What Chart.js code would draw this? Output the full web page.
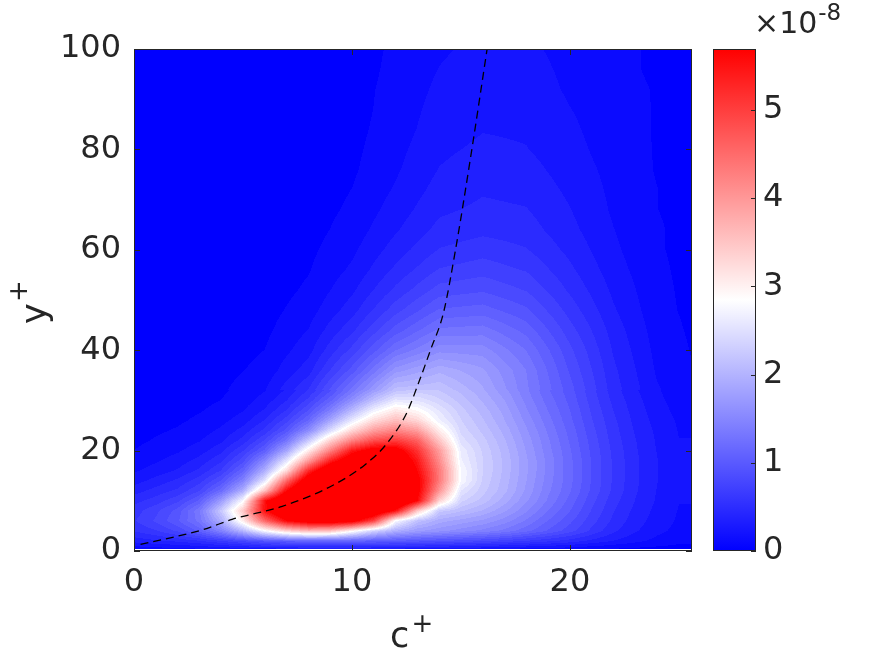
<!DOCTYPE html>
<html>
<head>
<meta charset="utf-8">
<script src="https://cdn.jsdelivr.net/npm/chart.js@4.4.1/dist/chart.umd.min.js"></script>
<style>
    html, body { margin: 0; padding: 0; background: #fff; }
</style>
</head>
<body>
<canvas id="grafico" width="875" height="657"></canvas>
<script>
// Ticks dos eixos
const xTicks = [0, 10, 20];
const yTicks = [0, 20, 40, 60, 80, 100];
const cbTicks = [0, 1, 2, 3, 4, 5];
const cMax = 5.69;      // topo da barra de cores (x 1e-8)
const nNiveis = 48;     // niveis do contourf

// Curva tracejada (c+, y+)
const curvaC = [0.3, 3.2, 4.5, 6.8, 9.0, 10.6, 11.6, 12.5, 13.1, 13.6, 14.2, 14.75, 15.5, 16.2];
const curvaY = [1.3, 4.3, 6.3, 8.9, 12.8, 17.2, 21.4, 27.4, 34, 40, 47.5, 60, 80, 100];

// Campo perto da parede: c+ de 1 em 1, y+ de 2 em 2 (valores x 1e-8)
const cBaixo = [0,1,2,3,4,5,6,7,8,9,10,11,12,13,14,15,16,17,18,19,20,21,22,23,24,25];
const yBaixo = [0.4, 2, 4, 6, 8, 10, 12, 14, 16, 18, 20, 22, 24, 26, 28, 30, 32];
const zBaixo = [
    [0.15,0.18,0.2,0.22,0.25,0.28,0.3,0.32,0.33,0.33,0.33,0.33,0.32,0.3,0.28,0.26,0.24,0.22,0.2,0.18,0.16,0.13,0.11,0.09,0.08,0.07],
    [0.4,0.45,0.5,0.58,0.7,0.85,1.0,1.1,1.15,1.15,1.15,1.1,1.05,1.0,0.95,0.9,0.85,0.78,0.7,0.62,0.54,0.44,0.35,0.27,0.2,0.15],
    [0.6,0.7,0.85,1.1,1.5,2.1,2.85,3.4,3.7,3.6,3.0,2.4,2.0,1.8,1.7,1.6,1.5,1.38,1.22,1.05,0.88,0.68,0.5,0.37,0.27,0.2],
    [0.7,0.85,1.05,1.35,2.0,3.1,4.6,5.7,6.1,6.2,6.0,5.0,2.85,2.2,1.95,1.85,1.75,1.6,1.4,1.18,0.98,0.76,0.56,0.41,0.3,0.22],
    [0.65,0.8,1.0,1.4,2.3,3.5,5.6,6.6,7.0,7.1,7.0,6.5,5.6,3.5,2.3,2.15,2.0,1.8,1.56,1.3,1.07,0.82,0.6,0.44,0.32,0.23],
    [0.55,0.65,0.8,1.1,1.8,2.85,5.6,6.8,7.3,7.6,7.6,7.4,6.9,5.7,3.4,2.4,2.2,1.95,1.68,1.4,1.14,0.87,0.64,0.47,0.34,0.24],
    [0.42,0.52,0.62,0.82,1.25,2.0,3.6,5.7,7.0,7.5,7.7,7.6,7.2,5.9,4.1,2.6,2.3,2.05,1.75,1.45,1.2,0.92,0.68,0.49,0.35,0.25],
    [0.3,0.4,0.5,0.66,0.95,1.5,2.6,4.6,6.3,7.2,7.6,7.6,7.2,5.9,4.4,2.85,2.35,2.08,1.78,1.48,1.22,0.94,0.69,0.5,0.36,0.26],
    [0.22,0.29,0.37,0.5,0.72,1.15,2.0,3.3,5.3,6.5,7.1,7.3,6.9,5.7,4.4,2.85,2.38,2.1,1.8,1.5,1.22,0.94,0.69,0.5,0.36,0.26],
    [0.16,0.22,0.29,0.4,0.57,0.9,1.55,2.6,4.0,5.4,6.3,6.7,6.4,5.5,4.2,2.75,2.38,2.1,1.8,1.5,1.22,0.94,0.69,0.5,0.36,0.26],
    [0.12,0.17,0.22,0.3,0.44,0.7,1.1,1.9,3.1,4.3,5.5,6.0,6.0,5.2,4.0,2.7,2.35,2.08,1.77,1.47,1.2,0.92,0.68,0.49,0.35,0.25],
    [0.09,0.13,0.17,0.23,0.33,0.52,0.84,1.35,2.3,3.4,4.3,4.9,5.1,4.7,3.55,2.55,2.3,2.03,1.73,1.44,1.17,0.9,0.66,0.48,0.34,0.24],
    [0.07,0.1,0.13,0.18,0.26,0.4,0.63,1.0,1.6,2.5,3.35,4.0,4.3,4.0,3.1,2.45,2.22,1.97,1.68,1.4,1.14,0.87,0.64,0.46,0.33,0.23],
    [0.06,0.08,0.1,0.14,0.2,0.3,0.48,0.78,1.2,1.9,2.65,3.3,3.65,3.35,2.75,2.38,2.15,1.9,1.62,1.35,1.1,0.84,0.62,0.44,0.31,0.22],
    [0.05,0.06,0.08,0.11,0.15,0.23,0.37,0.6,0.95,1.45,2.1,2.75,3.15,2.95,2.6,2.3,2.08,1.85,1.56,1.3,1.07,0.81,0.59,0.42,0.29,0.2],
    [0.04,0.05,0.07,0.09,0.12,0.18,0.29,0.47,0.75,1.15,1.65,2.2,2.65,2.6,2.4,2.2,2.0,1.78,1.5,1.25,1.03,0.78,0.56,0.4,0.27,0.18],
    [0.04,0.05,0.06,0.08,0.1,0.15,0.23,0.37,0.6,0.92,1.35,1.8,2.2,2.3,2.25,2.1,1.92,1.7,1.45,1.2,1.0,0.75,0.53,0.37,0.25,0.17]
];

// Campo de cima: c+ de 2 em 2, y+ de 4 em 4
const cAlto = [0,2,4,6,8,10,12,14,16,18,20,22,24,26];
const yAlto = [32,36,40,44,48,52,56,60,64,68,72,76,80,84,88,92,96,100];
const zAlto = [
    [0.04,0.06,0.1,0.23,0.6,1.35,2.2,2.25,1.92,1.45,1.0,0.53,0.25,0.12],
    [0.03,0.04,0.07,0.16,0.42,1.0,1.72,1.98,1.8,1.42,0.93,0.5,0.22,0.1],
    [0.02,0.03,0.05,0.12,0.31,0.75,1.3,1.62,1.6,1.3,0.86,0.46,0.2,0.09],
    [0.01,0.02,0.04,0.09,0.24,0.56,1.0,1.33,1.36,1.14,0.76,0.42,0.18,0.08],
    [0.01,0.01,0.03,0.07,0.18,0.42,0.78,1.08,1.12,0.97,0.66,0.37,0.16,0.07],
    [0.01,0.01,0.02,0.05,0.14,0.33,0.62,0.88,0.93,0.82,0.57,0.33,0.15,0.07],
    [0,0.01,0.02,0.04,0.11,0.26,0.5,0.72,0.78,0.7,0.5,0.29,0.14,0.07],
    [0,0.01,0.01,0.03,0.09,0.21,0.41,0.6,0.66,0.6,0.44,0.26,0.13,0.07],
    [0,0,0.01,0.02,0.07,0.17,0.34,0.51,0.56,0.53,0.39,0.24,0.13,0.07],
    [0,0,0.01,0.02,0.06,0.14,0.29,0.45,0.5,0.48,0.36,0.22,0.12,0.07],
    [0,0,0,0.01,0.05,0.12,0.25,0.4,0.46,0.44,0.33,0.21,0.12,0.07],
    [0,0,0,0.01,0.04,0.1,0.22,0.36,0.42,0.4,0.3,0.2,0.11,0.07],
    [0,0,0,0.01,0.03,0.09,0.2,0.33,0.38,0.36,0.28,0.18,0.11,0.07],
    [0,0,0,0,0.03,0.08,0.18,0.3,0.35,0.34,0.26,0.17,0.11,0.07],
    [0,0,0,0,0.02,0.07,0.17,0.28,0.33,0.32,0.24,0.17,0.11,0.07],
    [0,0,0,0,0.02,0.07,0.16,0.26,0.31,0.3,0.22,0.16,0.11,0.07],
    [0,0,0,0,0.02,0.06,0.15,0.24,0.29,0.28,0.21,0.15,0.1,0.07],
    [0,0,0,0,0.02,0.06,0.14,0.22,0.27,0.26,0.2,0.15,0.1,0.07]
];

const corTexto = '#262626';
const fonte = 'DejaVu Sans';

// Acha a celula e a fracao dentro dela
function achaIndice(arr, v) {
    if (v <= arr[0]) return [0, 0];
    for (let i = 0; i < arr.length - 1; i++) {
        if (v <= arr[i + 1]) return [i, (v - arr[i]) / (arr[i + 1] - arr[i])];
    }
    return [arr.length - 2, 1];
}

// Valor do campo num ponto (sombreamento bilinear entre os nos)
function valorCampo(c, y) {
    if (y < yBaixo[0]) return null;
    let xs = cBaixo, ys = yBaixo, zs = zBaixo;
    if (y > 32) { xs = cAlto; ys = yAlto; zs = zAlto; }
    const [i, tx] = achaIndice(xs, c);
    const [j, ty] = achaIndice(ys, y);
    const a = zs[j][i] * (1 - tx) + zs[j][i + 1] * tx;
    const b = zs[j + 1][i] * (1 - tx) + zs[j + 1][i + 1] * tx;
    return a * (1 - ty) + b * ty;
}

// Mapa azul -> branco -> vermelho
function corMapa(v) {
    const t = Math.max(0, Math.min(1, v / cMax));
    if (t < 0.5) {
        const w = Math.round(510 * t);
        return [w, w, 255];
    }
    const g = Math.round(510 * (1 - t));
    return [255, g, g];
}

const pluginCampo = {
    id: 'campo',
    beforeDatasetsDraw(chart) {
        const { ctx, chartArea, scales } = chart;
        const L = Math.round(chartArea.left), T = Math.round(chartArea.top);
        const W = Math.round(chartArea.right) - L, H = Math.round(chartArea.bottom) - T;
        const img = ctx.createImageData(W, H);
        const passo = cMax / nNiveis;
        const xs = [];
        for (let i = 0; i < W; i++) xs.push(scales.x.getValueForPixel(L + i + 0.5));
        for (let j = 0; j < H; j++) {
            const yv = scales.y.getValueForPixel(T + j + 0.5);
            for (let i = 0; i < W; i++) {
                const v = valorCampo(xs[i], yv);
                const rgb = v === null ? [255, 255, 255] : corMapa(Math.floor(v / passo) * passo);
                const k = (j * W + i) * 4;
                img.data[k] = rgb[0];
                img.data[k + 1] = rgb[1];
                img.data[k + 2] = rgb[2];
                img.data[k + 3] = 255;
            }
        }
        ctx.putImageData(img, L, T);
    },
    afterDatasetsDraw(chart) {
        const { ctx, chartArea: a, scales } = chart;
        ctx.save();
        ctx.strokeStyle = corTexto;
        ctx.lineWidth = 1;

        // moldura e ticks para dentro
        ctx.strokeRect(a.left + 0.5, a.top + 0.5, a.right - a.left - 1, a.bottom - a.top - 1);
        ctx.beginPath();
        xTicks.forEach(v => {
            const px = Math.round(scales.x.getPixelForValue(v)) + 0.5;
            ctx.moveTo(px, a.bottom); ctx.lineTo(px, a.bottom - 6);
            ctx.moveTo(px, a.top); ctx.lineTo(px, a.top + 6);
        });
        yTicks.forEach(v => {
            const py = Math.round(scales.y.getPixelForValue(v)) + 0.5;
            ctx.moveTo(a.left, py); ctx.lineTo(a.left + 6, py);
            ctx.moveTo(a.right, py); ctx.lineTo(a.right - 6, py);
        });
        ctx.stroke();

        // barra de cores
        const cb = scales.cb;
        const x0 = 713, x1 = 756;
        const yb = cb.getPixelForValue(0), yt = cb.getPixelForValue(cMax);
        const grad = ctx.createLinearGradient(0, yb, 0, yt);
        grad.addColorStop(0, 'rgb(0,0,255)');
        grad.addColorStop(0.5, 'rgb(255,255,255)');
        grad.addColorStop(1, 'rgb(255,0,0)');
        ctx.fillStyle = grad;
        ctx.fillRect(x0, yt, x1 - x0, yb - yt);
        ctx.strokeRect(x0 + 0.5, Math.round(yt) + 0.5, x1 - x0 - 1, Math.round(yb - yt) - 1);
        ctx.beginPath();
        cbTicks.forEach(v => {
            const py = Math.round(cb.getPixelForValue(v)) + 0.5;
            ctx.moveTo(x1, py); ctx.lineTo(x1 - 5, py);
        });
        ctx.stroke();

        // expoente da barra de cores
        ctx.fillStyle = corTexto;
        ctx.textBaseline = 'alphabetic';
        ctx.textAlign = 'left';
        ctx.font = '30px "' + fonte + '"';
        ctx.fillText('×10', 754, 33);
        const larg = ctx.measureText('×10').width;
        ctx.font = '23px "' + fonte + '"';
        ctx.fillText('-8', 754 + larg + 1, 20);

        // titulos dos eixos
        ctx.font = '35px "' + fonte + '"';
        ctx.fillText('c', 390, 647);
        ctx.textAlign = 'center';
        ctx.font = '26px "' + fonte + '"';
        ctx.fillText('+', 422.5, 632);

        ctx.translate(46, 324);
        ctx.rotate(-Math.PI / 2);
        ctx.textAlign = 'left';
        ctx.font = '35px "' + fonte + '"';
        ctx.fillText('y', 0, 0);
        ctx.textAlign = 'center';
        ctx.font = '26px "' + fonte + '"';
        ctx.fillText('+', 33, -19);
        ctx.restore();
    }
};

function gerarGrafico() {
    const ctx = document.getElementById('grafico').getContext('2d');
    Chart.defaults.font.family = fonte;
    Chart.defaults.color = corTexto;
    new Chart(ctx, {
        type: 'line',
        data: {
            datasets: [{
                data: curvaC.map((c, i) => ({ x: c, y: curvaY[i] })),
                borderColor: '#000000',
                borderWidth: 1.3,
                borderDash: [8, 5],
                pointRadius: 0,
                cubicInterpolationMode: 'monotone',
                fill: false,
            }],
        },
        options: {
            responsive: false,
            animation: false,
            layout: { padding: { top: 49, left: 0, right: 0, bottom: 0 } },
            plugins: {
                legend: { display: false },
                tooltip: { enabled: false },
            },
            scales: {
                x: {
                    type: 'linear',
                    min: 0,
                    max: 25.6,
                    grid: { display: false, drawTicks: false },
                    border: { display: false },
                    afterBuildTicks: (s) => { s.ticks = xTicks.map(v => ({ value: v })); },
                    afterFit: (s) => { s.height = 106; s.paddingLeft = 0; s.paddingRight = 0; },
                    ticks: { font: { size: 32 }, color: corTexto, padding: 12, maxRotation: 0, autoSkip: false },
                },
                y: {
                    type: 'linear',
                    position: 'left',
                    min: 0,
                    max: 100,
                    grid: { display: false, drawTicks: false },
                    border: { display: false },
                    afterBuildTicks: (s) => { s.ticks = yTicks.map(v => ({ value: v })); },
                    afterFit: (s) => { s.width = 134; s.paddingTop = 0; s.paddingBottom = 0; },
                    ticks: { font: { size: 32 }, color: corTexto, padding: 13, autoSkip: false },
                },
                cb: {
                    type: 'linear',
                    axis: 'y',
                    position: 'right',
                    min: 0,
                    max: cMax,
                    grid: { display: false, drawTicks: false },
                    border: { display: false },
                    afterBuildTicks: (s) => { s.ticks = cbTicks.map(v => ({ value: v })); },
                    afterFit: (s) => { s.width = 183; s.paddingTop = 0; s.paddingBottom = 0; },
                    ticks: { font: { size: 32 }, color: corTexto, padding: 71, autoSkip: false },
                },
            },
        },
        plugins: [pluginCampo],
    });
}

window.onload = gerarGrafico;
</script>
</body>
</html>
